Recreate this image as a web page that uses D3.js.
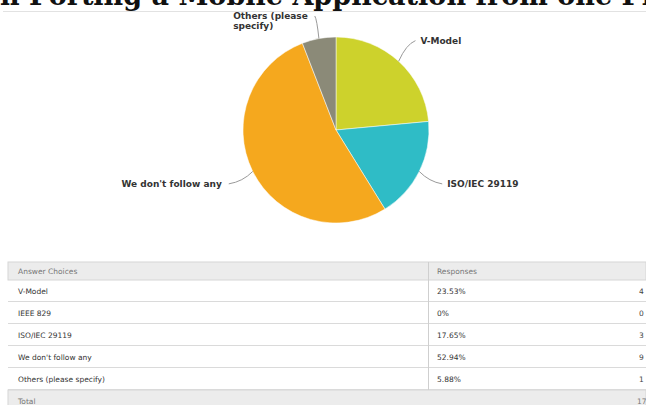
<!DOCTYPE html>
<html>
<head>
<meta charset="utf-8">
<script src="https://cdn.jsdelivr.net/npm/d3@7"></script>
<style>
  body { margin: 0; background: #fff; }
  svg { display: block; }
</style>
</head>
<body>
<div id="chart"></div>
<script>
const titleText = "when Porting a Mobile Application from one Platform";
const choices = ["V-Model", "IEEE 829", "ISO/IEC 29119", "We don't follow any", "Others (please specify)"];
const pieLabels = [["V-Model"], [], ["ISO/IEC 29119"], ["We don't follow any"], ["Others (please", "specify)"]];
const percents = [23.53, 0, 17.65, 52.94, 5.88];
const counts = [4, 0, 3, 9, 1];
const totalCount = 17;
const colors = ["#cdd22c", "#9b59b6", "#2fbcc6", "#f5a81e", "#8b8a78"];

const width = 646, height = 405;
const svg = d3.select("#chart").append("svg")
  .attr("width", width)
  .attr("height", height);

// title, cut off at the top like the screenshot
const title = svg.append("text")
  .attr("y", 5)
  .attr("font-family", "DejaVu Serif")
  .attr("font-weight", "bold")
  .attr("font-size", 28)
  .attr("fill", "#111")
  .text(titleText);
// fit: "n Porting ... one " should span 0..622
const iN = titleText.indexOf("n Porting");
const iP = titleText.indexOf("Platform");
const node = title.node();
const span = node.getSubStringLength(iN, iP - iN);
const fs = 28 * 622 / span;
title.attr("font-size", fs);
const pre = node.getSubStringLength(0, iN);
title.attr("x", -pre);

svg.append("line")
  .attr("x1", 3).attr("x2", width)
  .attr("y1", 11.5).attr("y2", 11.5)
  .attr("stroke", "#e2e2e2");

// pie
const cx = 336, cy = 130, r = 93;
const g = svg.append("g").attr("transform", `translate(${cx},${cy})`);
const pie = d3.pie().sort(null).value(d => d)(percents);
const arc = d3.arc().innerRadius(0).outerRadius(r);

g.selectAll("path.slice")
  .data(pie.filter(d => d.value > 0))
  .join("path")
  .attr("class", "slice")
  .attr("d", arc)
  .attr("fill", d => colors[d.index])
  .attr("stroke", "#fff")
  .attr("stroke-width", 0.5);

const polar = (a, rr) => [Math.sin(a) * rr, -Math.cos(a) * rr];

pie.filter(d => d.value > 0).forEach(d => {
  const a = (d.startAngle + d.endAngle) / 2;
  const lines = pieLabels[d.index];
  const right = Math.sin(a) >= 0;
  const edge = polar(a, r);
  let [lx, ly] = polar(a, r * 1.3);
  ly = Math.max(ly, 19 - cy);
  const anchorX = right ? lx + 3 : lx - 6;
  const lineStartX = right ? lx - 2 : lx + 1;
  const lineY = lines.length > 1 ? ly - 3 : ly;
  const ctrl = polar(a, r * 1.12);
  const path = d3.path();
  path.moveTo(lineStartX, lineY);
  path.quadraticCurveTo(ctrl[0], lineY + (ctrl[1] - lineY) * 0.3, edge[0], edge[1]);
  g.append("path")
    .attr("d", path.toString())
    .attr("fill", "none")
    .attr("stroke", "#9a9a9a")
    .attr("stroke-width", 1);
  const t = g.append("text")
    .attr("x", anchorX)
    .attr("y", ly)
    .attr("text-anchor", right ? "start" : "end")
    .attr("font-family", "DejaVu Sans")
    .attr("font-weight", "bold")
    .attr("font-size", 9)
    .attr("fill", "#333");
  lines.forEach((s, i) => {
    t.append("tspan")
      .attr("x", anchorX)
      .attr("dy", i === 0 ? (lines.length > 1 ? "0" : "0.35em") : "1.15em")
      .text(s);
  });
  if (lines.length > 1) {
    // second line of a multi-line label is left-aligned with the first
    const w0 = t.select("tspan").node().getComputedTextLength();
    t.attr("text-anchor", "start");
    t.selectAll("tspan").attr("x", right ? anchorX : anchorX - w0);
  }
});

// table
const tableX = 8, tableRight = width, divX = 428;
const headerY = 262, headerH = 18, rowH = 22;
const y = d3.scaleBand()
  .domain(d3.range(choices.length))
  .range([headerY + headerH, headerY + headerH + rowH * choices.length]);
const totalY = headerY + headerH + rowH * choices.length;

const tbl = svg.append("g")
  .attr("font-family", "DejaVu Sans")
  .attr("font-size", 7.5);

tbl.append("rect")
  .attr("x", tableX).attr("y", headerY)
  .attr("width", tableRight - tableX).attr("height", headerH)
  .attr("fill", "#ececec").attr("stroke", "#d6d6d6");
tbl.append("rect")
  .attr("x", tableX).attr("y", totalY)
  .attr("width", tableRight - tableX).attr("height", height - totalY + 2)
  .attr("fill", "#ececec").attr("stroke", "#d6d6d6");

tbl.selectAll("line.row")
  .data(d3.range(choices.length))
  .join("line")
  .attr("class", "row")
  .attr("x1", tableX).attr("x2", tableRight)
  .attr("y1", i => y(i) + y.bandwidth() - 0.5)
  .attr("y2", i => y(i) + y.bandwidth() - 0.5)
  .attr("stroke", "#dadada");

tbl.append("line")
  .attr("x1", divX + 0.5).attr("x2", divX + 0.5)
  .attr("y1", headerY).attr("y2", totalY)
  .attr("stroke", "#cfcfcf");

tbl.append("text").attr("x", 18).attr("y", headerY + headerH / 2).attr("dy", "0.35em")
  .attr("fill", "#777").text("Answer Choices");
tbl.append("text").attr("x", divX + 9).attr("y", headerY + headerH / 2).attr("dy", "0.35em")
  .attr("fill", "#777").text("Responses");

tbl.selectAll("text.choice")
  .data(choices)
  .join("text")
  .attr("class", "choice")
  .attr("x", 18)
  .attr("y", (d, i) => y(i) + y.bandwidth() / 2)
  .attr("dy", "0.35em")
  .attr("fill", "#333")
  .text(d => d);

tbl.selectAll("text.pct")
  .data(percents)
  .join("text")
  .attr("class", "pct")
  .attr("x", divX + 9)
  .attr("y", (d, i) => y(i) + y.bandwidth() / 2)
  .attr("dy", "0.35em")
  .attr("fill", "#333")
  .text(d => (d === 0 ? "0" : d.toFixed(2)) + "%");

tbl.selectAll("text.count")
  .data(counts)
  .join("text")
  .attr("class", "count")
  .attr("x", 639)
  .attr("y", (d, i) => y(i) + y.bandwidth() / 2)
  .attr("dy", "0.35em")
  .attr("fill", "#444")
  .text(d => d);

tbl.append("text").attr("x", 18).attr("y", totalY + 11).attr("dy", "0.35em")
  .attr("fill", "#777").text("Total");
tbl.append("text").attr("x", 637).attr("y", totalY + 11).attr("dy", "0.35em")
  .attr("fill", "#777").text(totalCount);
</script>
</body>
</html>
